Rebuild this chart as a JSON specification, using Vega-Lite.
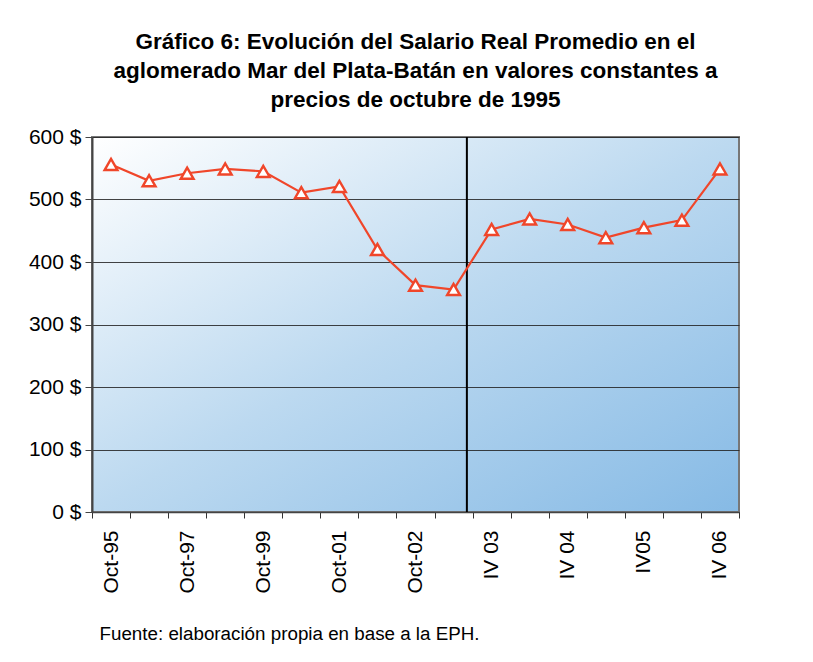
{
  "$schema": "https://vega.github.io/schema/vega-lite/v6.json",
  "width": 647,
  "height": 375,
  "padding": {"left": 28, "top": 30, "right": 10, "bottom": 5},
  "background": "white",
  "title": {
    "text": ["Gráfico 6: Evolución del Salario Real Promedio en el", "aglomerado Mar del Plata-Batán en valores constantes a", "precios de octubre de 1995"],
    "font": "Liberation Sans",
    "fontSize": 22.5,
    "fontWeight": "bold",
    "color": "black",
    "anchor": "middle",
    "frame": "group",
    "lineHeight": 29,
    "offset": 15
  },
  "data": {
    "values": [
      {"periodo": "Oct-95", "salario": 556},
      {"periodo": "Oct-96", "salario": 530},
      {"periodo": "Oct-97", "salario": 542},
      {"periodo": "Oct-98", "salario": 549},
      {"periodo": "Oct-99", "salario": 545},
      {"periodo": "Oct-00", "salario": 511},
      {"periodo": "Oct-01", "salario": 521},
      {"periodo": "May-02", "salario": 420},
      {"periodo": "Oct-02", "salario": 363},
      {"periodo": "May-03", "salario": 356},
      {"periodo": "IV 03", "salario": 452},
      {"periodo": "II 04", "salario": 469},
      {"periodo": "IV 04", "salario": 460},
      {"periodo": "II 05", "salario": 439},
      {"periodo": "IV05", "salario": 455},
      {"periodo": "II 06", "salario": 467},
      {"periodo": "IV 06", "salario": 549}
    ]
  },
  "encoding": {
    "x": {
      "field": "periodo",
      "type": "nominal",
      "sort": null,
      "scale": {
        "domain": ["Oct-95", "Oct-96", "Oct-97", "Oct-98", "Oct-99", "Oct-00", "Oct-01", "May-02", "Oct-02", "May-03", "IV 03", "II 04", "IV 04", "II 05", "IV05", "II 06", "IV 06"],
        "paddingInner": 0,
        "paddingOuter": 0
      },
      "axis": {
        "labelAngle": -90,
        "labelAlign": "right",
        "labelBaseline": "middle",
        "labelFont": "Liberation Sans",
        "labelFontSize": 21,
        "labelColor": "black",
        "labelPadding": 12,
        "labelExpr": "test(/^(Oct-9[579]|Oct-0[12]|IV ?0[3-6])$/, datum.value) ? datum.value : ''",
        "tickBand": "extent",
        "tickSize": 6,
        "tickColor": "#333",
        "domainColor": "#444",
        "domainWidth": 1.5,
        "grid": false,
        "title": "Fuente: elaboración propia en base a la EPH.",
        "titleFont": "Liberation Sans",
        "titleFontSize": 18.8,
        "titleFontWeight": "normal",
        "titleColor": "black",
        "titleAnchor": "start",
        "titleAlign": "left",
        "titleBaseline": "middle",
        "titleX": 7,
        "titleY": 121
      }
    }
  },
  "layer": [
    {
      "mark": {"type": "rule", "color": "black", "strokeWidth": 2},
      "transform": [{"filter": "datum.periodo == 'May-03'"}],
      "encoding": {
        "x": {"field": "periodo", "type": "nominal", "sort": null, "bandPosition": 0.85}
      }
    },
    {
      "mark": {
        "type": "line",
        "color": "#f0462a",
        "strokeWidth": 2.2,
        "point": {"shape": "triangle-up", "size": 165, "filled": true, "fill": "white", "stroke": "#f0462a", "strokeWidth": 2.4}
      },
      "encoding": {
        "y": {
          "field": "salario",
          "type": "quantitative",
          "scale": {"domain": [0, 600], "nice": false},
          "axis": {
            "values": [0, 100, 200, 300, 400, 500, 600],
            "labelExpr": "datum.value + ' $'",
            "labelFont": "Liberation Sans",
            "labelFontSize": 21,
            "labelColor": "black",
            "labelPadding": 4,
            "tickSize": 7,
            "tickColor": "#444",
            "domainColor": "#444",
            "domainWidth": 2,
            "gridColor": "#222",
            "gridWidth": 1,
            "gridOpacity": 0.85,
            "title": null
          }
        }
      }
    }
  ],
  "config": {
    "view": {
      "stroke": "#777",
      "strokeWidth": 2,
      "fill": {
        "gradient": "linear",
        "x1": 0, "y1": 0, "x2": 1, "y2": 1,
        "stops": [
          {"offset": 0, "color": "#ffffff"},
          {"offset": 0.5, "color": "#bcd9f0"},
          {"offset": 1, "color": "#86bae5"}
        ]
      }
    }
  }
}
